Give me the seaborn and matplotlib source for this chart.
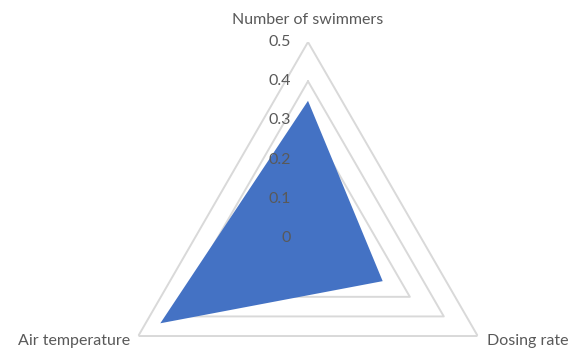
import numpy as np
import pandas as pd
import matplotlib
matplotlib.use("Agg")
import matplotlib.pyplot as plt
import seaborn as sns

# Radar chart data
categories = ["Number of swimmers", "Dosing rate", "Air temperature"]
values = [0.35, 0.22, 0.435]
levels = [0.1, 0.2, 0.3, 0.4, 0.5]
level_labels = ["0", "0.1", "0.2", "0.3", "0.4", "0.5"]

sns.set_theme(style="white")
plt.rcParams["font.family"] = ["Lato", "DejaVu Sans"]

df = pd.DataFrame({"category": categories, "value": values})
n = len(df)
angles = np.linspace(0, 2 * np.pi, n, endpoint=False)

fig = plt.figure(figsize=(5.70, 3.52), dpi=100)
ax = fig.add_axes([0.1965, -0.233, 0.6877, 1.1136], projection="polar")
ax.set_theta_offset(np.pi / 2)
ax.set_theta_direction(-1)
ax.set_ylim(0, 0.5)
ax.grid(False)
ax.spines["polar"].set_visible(False)
ax.set_xticks([])
ax.set_yticks([])
ax.patch.set_alpha(0)

grid_color = "#D9D9D9"
text_color = "#595959"

# triangular gridlines
closed_angles = np.append(angles, angles[0])
for lv in levels:
    ax.plot(closed_angles, [lv] * (n + 1), color=grid_color, lw=1.4, zorder=1)

# data area
closed_vals = np.append(df["value"].values, df["value"].values[0])
ax.fill(closed_angles, closed_vals, color="#4472C4", lw=0, zorder=2)

# radial value labels along the top axis
for lv, lab in zip([0.0] + levels, level_labels):
    ax.annotate(lab, xy=(0, lv), xytext=(-17, 0), textcoords="offset pixels",
                ha="right", va="center", fontsize=11.5, color=text_color, zorder=3)

# category labels
offsets = [(0, 22, "center", "center"), (9, -5, "left", "center"), (-8, -5, "right", "center")]
for ang, cat, (dx, dy, ha, va) in zip(angles, df["category"], offsets):
    ax.annotate(cat, xy=(ang, 0.5), xytext=(dx, dy), textcoords="offset pixels",
                ha=ha, va=va, fontsize=11.5, color=text_color, annotation_clip=False)

fig.savefig("out.png", dpi=100)
